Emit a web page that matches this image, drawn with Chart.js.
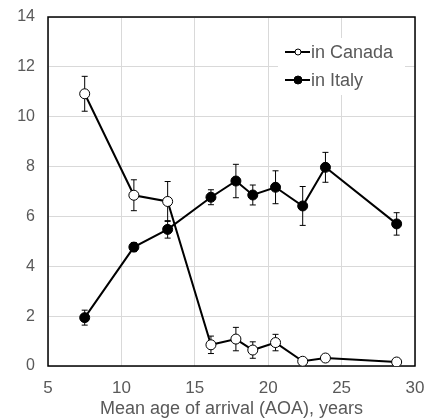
<!DOCTYPE html>
<html>
<head>
<meta charset="utf-8">
<script src="https://cdn.jsdelivr.net/npm/chart.js@4.4.1/dist/chart.umd.min.js"></script>
<style>
  html, body { margin: 0; background: #fff; }
  #wrap { width: 430px; height: 420px; }
</style>
</head>
<body>
<div id="wrap"><canvas id="chart"></canvas></div>
<script>
// mean age of arrival (shared by both groups)
const ages = [7.5, 10.85, 13.15, 16.1, 17.8, 18.95, 20.5, 22.35, 23.9, 28.75];
const canada = [10.92, 6.85, 6.6, 0.85, 1.08, 0.64, 0.94, 0.19, 0.32, 0.16];
const canadaErr = [0.7, 0.62, 0.8, 0.35, 0.47, 0.33, 0.33, 0, 0, 0];
const italy = [1.94, 4.77, 5.48, 6.77, 7.42, 6.86, 7.17, 6.42, 7.97, 5.7];
const italyErr = [0.3, 0.18, 0.35, 0.3, 0.67, 0.4, 0.66, 0.78, 0.6, 0.45];
const xTicks = [5, 10, 15, 20, 25, 30];
const yTicks = [0, 2, 4, 6, 8, 10, 12, 14];

const GREY = '#595959';
const FONT = "'Liberation Sans', Arial, sans-serif";

const pts = vals => vals.map((v, i) => ({ x: ages[i], y: v }));

// error bars under the markers + black frame round the plot
const errorBars = {
  id: 'errorBars',
  beforeDatasetsDraw(chart) {
    const { ctx, chartArea: a, scales: { x, y } } = chart;
    ctx.save();
    ctx.strokeStyle = '#000';
    ctx.lineWidth = 1.5;
    ctx.strokeRect(a.left, a.top, a.right - a.left, a.bottom - a.top);
    ctx.lineWidth = 1;
    chart.data.datasets.forEach(ds => {
      ds.data.forEach((p, i) => {
        const e = ds.err[i];
        if (!e) return;
        const px = x.getPixelForValue(p.x);
        const y1 = y.getPixelForValue(p.y + e), y2 = y.getPixelForValue(p.y - e);
        ctx.beginPath();
        ctx.moveTo(px, y1); ctx.lineTo(px, y2);
        ctx.moveTo(px - 3, y1); ctx.lineTo(px + 3, y1);
        ctx.moveTo(px - 3, y2); ctx.lineTo(px + 3, y2);
        ctx.stroke();
      });
    });
    ctx.restore();
  },
  afterDatasetsDraw(chart) {
    const { ctx, chartArea: a } = chart;
    const lx = a.right - 130, ly = a.top + 35;
    ctx.save();
    ctx.fillStyle = '#fff';
    ctx.fillRect(lx - 7, a.top + 21, 127, 57);
    ctx.font = '18px ' + FONT;
    ctx.textBaseline = 'middle';
    chart.data.datasets.forEach((ds, i) => {
      const yy = ly + i * 28;
      ctx.strokeStyle = '#000';
      ctx.lineWidth = 2;
      ctx.beginPath(); ctx.moveTo(lx, yy); ctx.lineTo(lx + 25, yy); ctx.stroke();
      ctx.beginPath();
      ctx.arc(lx + 13, yy, i ? 4 : 3, 0, Math.PI * 2);
      ctx.fillStyle = ds.pointBackgroundColor;
      ctx.fill();
      ctx.lineWidth = 1;
      ctx.stroke();
      ctx.fillStyle = GREY;
      ctx.fillText(ds.label, lx + 26, yy + 1);
    });
    ctx.restore();
  }
};

new Chart(document.getElementById('chart'), {
  type: 'scatter',
  data: {
    datasets: [
      { label: 'in Canada', data: pts(canada), err: canadaErr, showLine: true,
        borderColor: '#000', borderWidth: 2, pointBackgroundColor: '#fff',
        pointBorderColor: '#000', pointBorderWidth: 1, pointRadius: 5 },
      { label: 'in Italy', data: pts(italy), err: italyErr, showLine: true,
        borderColor: '#000', borderWidth: 2, pointBackgroundColor: '#000',
        pointBorderColor: '#000', pointBorderWidth: 1, pointRadius: 5 }
    ]
  },
  options: {
    responsive: true,
    maintainAspectRatio: false,
    animation: false,
    layout: { padding: { top: 17, right: 15, bottom: 0, left: 0 } },
    plugins: { legend: { display: false }, tooltip: { enabled: false } },
    scales: {
      x: {
        type: 'linear', min: 5, max: 30,
        afterBuildTicks: s => { s.ticks = xTicks.map(v => ({ value: v })); },
        afterFit: s => { s.height = 54; s.paddingLeft = 0; s.paddingRight = 0; },
        grid: { color: '#d9d9d9', drawTicks: false },
        border: { display: false },
        ticks: { color: GREY, font: { family: FONT, size: 17 }, padding: 12 },
        title: { display: true, text: 'Mean age of arrival (AOA), years', color: GREY,
                 font: { family: FONT, size: 18 }, padding: { top: 0, bottom: 0 } }
      },
      y: {
        min: 0, max: 14,
        afterBuildTicks: s => { s.ticks = yTicks.map(v => ({ value: v })); },
        afterFit: s => { s.width = 48; s.paddingTop = 0; s.paddingBottom = 0; },
        grid: { color: '#d9d9d9', drawTicks: false },
        border: { display: false },
        ticks: { color: GREY, font: { family: FONT, size: 16 }, padding: 13 }
      }
    }
  },
  plugins: [errorBars]
});
</script>
</body>
</html>
